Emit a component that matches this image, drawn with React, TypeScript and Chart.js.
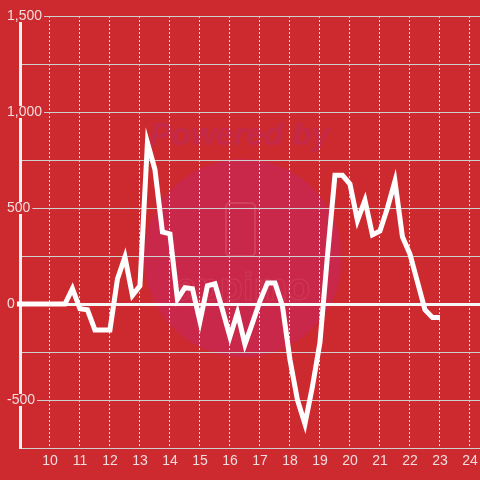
import React, { useEffect, useRef } from "react";
import { Chart, registerables } from "chart.js";

Chart.register(...registerables);

// Hours of the day (x) and values (y)
const hours = [
  8.9, 9.5, 10.0, 10.5, 10.75, 11.0, 11.25, 11.5, 11.75, 12.0, 12.25, 12.5, 12.75,
  13.0, 13.25, 13.5, 13.75, 14.0, 14.25, 14.5, 14.75, 15.0, 15.25, 15.5, 15.75,
  16.0, 16.25, 16.5, 16.75, 17.0, 17.25, 17.5, 17.75, 18.0, 18.25, 18.5, 18.75,
  19.0, 19.25, 19.5, 19.75, 20.0, 20.25, 20.5, 20.75, 21.0, 21.25, 21.5, 21.75,
  22.0, 22.25, 22.5, 22.75, 23.0,
];
const values = [
  0, 0, 0, 0, 80, -25, -30, -135, -135, -135, 130, 245, 45,
  95, 840, 700, 375, 365, 25, 85, 80, -90, 95, 105, -30,
  -170, -45, -210, -100, 15, 110, 110, -10, -290, -500, -625, -430,
  -200, 250, 670, 670, 625, 435, 540, 360, 380, 500, 640, 350,
  260, 115, -30, -70, -70,
];

const xMin = 9.002;
const xMax = 24.335;
const xStep = 1;
const yMin = -750;
const yMax = 1500;
const yStep = 250;
const yLabelEvery = 500;

const BG = "#cd2a2f";
const FONT = '"Liberation Sans", Arial, sans-serif';
const LABEL_COLOR = "#f2dcdd";

const backgroundPlugin = {
  id: "bgWatermark",
  beforeDraw(chart: any) {
    const ctx = chart.ctx as CanvasRenderingContext2D;
    ctx.save();
    ctx.fillStyle = BG;
    ctx.fillRect(0, 0, chart.width, chart.height);
    // watermark
    ctx.beginPath();
    ctx.arc(243, 258, 99, 0, Math.PI * 2);
    ctx.fillStyle = "#c9284a";
    ctx.fill();
    ctx.font = "italic bold 32px " + FONT;
    ctx.fillStyle = "#c4294a";
    ctx.textBaseline = "alphabetic";
    ctx.textAlign = "left";
    ctx.fillText("Powered by", 150, 145);
    ctx.strokeStyle = "#d0405a";
    ctx.lineWidth = 2;
    ctx.beginPath();
    (ctx as any).roundRect(226, 203, 29, 53, 4);
    ctx.stroke();
    ctx.font = "bold 38px " + FONT;
    ctx.textAlign = "center";
    ctx.lineWidth = 1;
    ctx.strokeStyle = "#cf3a56";
    ctx.strokeText("appimo", 243, 300);
    ctx.restore();
  },
};

export default function App() {
  const ref = useRef<HTMLCanvasElement>(null);

  useEffect(() => {
    const canvas = ref.current;
    if (!canvas) return;
    const chart = new Chart(canvas, {
      type: "line",
      data: {
        datasets: [
          {
            data: hours.map((h, i) => ({ x: h, y: values[i] })),
            borderColor: "#ffffff",
            borderWidth: 5,
            pointRadius: 0,
            tension: 0,
            fill: false,
            clip: false as any,
          },
        ],
      },
      options: {
        animation: false,
        responsive: false,
        maintainAspectRatio: false,
        layout: { padding: { top: 16, left: 7, right: 0, bottom: 0 } },
        plugins: {
          legend: { display: false },
          tooltip: { enabled: false },
        },
        scales: {
          x: {
            type: "linear",
            min: xMin,
            max: xMax,
            afterFit: (s: any) => {
              s.height = 32;
              s.paddingLeft = 0;
              s.paddingRight = 0;
            },
            ticks: {
              stepSize: xStep,
              includeBounds: false,
              color: LABEL_COLOR,
              font: { family: FONT, size: 14 },
              padding: 5,
              maxRotation: 0,
              autoSkip: false,
              callback: (v: any) => String(v),
            },
            grid: {
              color: "rgba(255,255,255,0.85)",
              lineWidth: 1,
              drawTicks: false,
            },
            border: { display: false, dash: [2, 2] },
          },
          y: {
            type: "linear",
            min: yMin,
            max: yMax,
            afterFit: (s: any) => {
              s.width = 13;
              s.paddingTop = 0;
              s.paddingBottom = 0;
            },
            ticks: {
              stepSize: yStep,
              includeBounds: false,
              mirror: true,
              crossAlign: "near",
              padding: -13,
              color: LABEL_COLOR,
              font: { family: FONT, size: 14, lineHeight: 1 },
              callback: (v: any) =>
                Number(v) % yLabelEvery === 0 ? Number(v).toLocaleString("en-US") : "",
              showLabelBackdrop: (ctx: any) =>
                ctx.tick && ctx.tick.value % yLabelEvery === 0,
              backdropColor: BG,
              backdropPadding: { top: -1, bottom: -1, left: 2, right: 2 },
            } as any,
            grid: {
              color: (ctx: any) =>
                ctx.tick && ctx.tick.value === 0 ? "#f7f7f7" : "#cfcfcf",
              lineWidth: (ctx: any) => (ctx.tick && ctx.tick.value === 0 ? 3 : 1),
              drawTicks: false,
            },
            border: { display: true, color: "#f0f0f0", width: 3 },
          },
        },
      },
      plugins: [backgroundPlugin],
    });
    return () => chart.destroy();
  }, []);

  return (
    <div style={{ position: "fixed", left: 0, top: 0, width: 480, height: 480 }}>
      <canvas ref={ref} width={480} height={480} style={{ display: "block", width: 480, height: 480 }} />
    </div>
  );
}
